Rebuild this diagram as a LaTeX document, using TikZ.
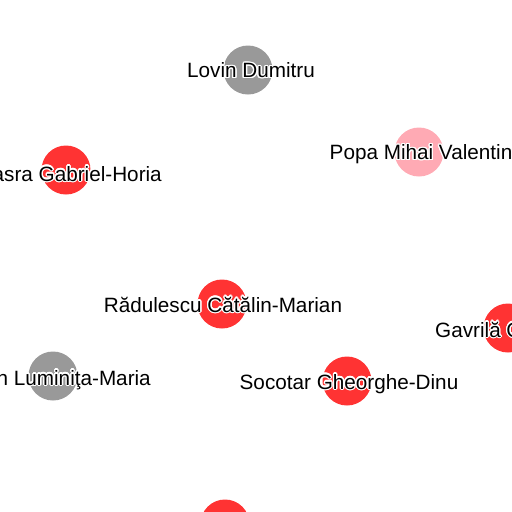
\documentclass[tikz,border=0pt]{standalone}
\usepackage{fontspec}
\setmainfont{Liberation Sans}
\usetikzlibrary{calc}
\definecolor{nred}{RGB}{255,51,51}
\definecolor{npink}{RGB}{255,170,180}
\definecolor{ngray}{RGB}{153,153,153}
\newcommand\lblfont{\fontsize{20.7}{24}\selectfont}
\tikzset{
  vtx/.style={circle,minimum size=49pt,inner sep=0pt,draw=none},
  lbl/.style={inner sep=0pt,font=\lblfont,text=black},
  halo/.style={inner sep=0pt,font=\lblfont,text=white},
}
% #1 name, #2 position, #3 anchor, #4 text
\newcommand\haloLabel[4]{%
  \foreach \a in {0,22.5,...,337.5}{%
    \node[halo,anchor=#3] at ($(#2)+(\a:1.3pt)$) {#4};}
  \node[lbl,anchor=#3] (#1) at (#2) {#4};}
\begin{document}
\begin{tikzpicture}[x=1pt,y=-1pt]
\useasboundingbox (0,0) rectangle (512,512);
\fill[white] (0,0) rectangle (512,512);
\clip (0,0) rectangle (512,512);
% circles
\node[vtx,fill=ngray] (lovin) at (248,70) {};
\node[vtx,fill=npink] (popa) at (419,152) {};
\node[vtx,fill=nred] (gabriel) at (66,170) {};
\node[vtx,fill=nred] (radu) at (222,304) {};
\node[vtx,fill=nred] (gavr) at (508,328) {};
\node[vtx,fill=ngray] (lumi) at (53,376) {};
\node[vtx,fill=nred] (soco) at (347,381) {};
\node[vtx,fill=nred] (bottom) at (225,524) {};
% labels
\haloLabel{tlovin}{251,77.5}{base}{Lovin Dumitru}
\haloLabel{tpopa}{421,159.5}{base}{Popa Mihai Valentin}
\haloLabel{tgabriel}{162,181}{base east}{asra Gabriel-Horia}
\haloLabel{tradu}{223,312}{base}{Rădulescu Cătălin-Marian}
\haloLabel{tgavr}{435,337}{base west}{Gavrilă C}
\haloLabel{tlumi}{151,385}{base east}{n Luminiţa-Maria}
\haloLabel{tsoco}{349,389}{base}{Socotar Gheorghe-Dinu}
\end{tikzpicture}
\end{document}
